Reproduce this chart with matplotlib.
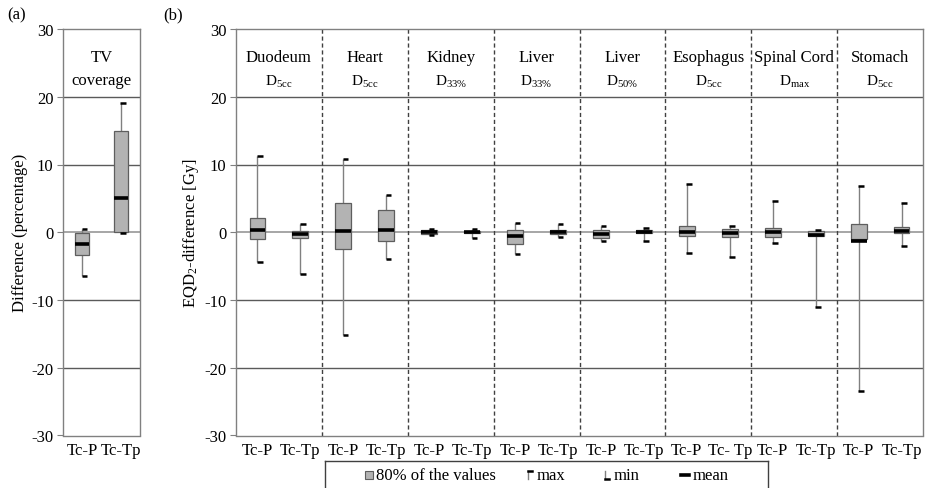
"""
Box summary of dose differences: (a) target volume coverage, (b) OAR EQD2 differences.
Boxes show the central 80% of the values, with max / min ticks and the mean.
"""
import matplotlib
matplotlib.use("Agg")
import matplotlib.pyplot as plt
from matplotlib.lines import Line2D
from matplotlib.patches import Rectangle
import numpy as np

plt.rcParams["font.family"] = "serif"
plt.rcParams["font.serif"] = ["Liberation Serif", "DejaVu Serif"]
plt.rcParams["mathtext.fontset"] = "custom"
plt.rcParams["mathtext.rm"] = "Liberation Serif"
plt.rcParams["mathtext.it"] = "Liberation Serif:italic"
plt.rcParams["axes.unicode_minus"] = False

# ── panel (a): TV coverage ──
tv_labels = ["Tc-P", "Tc-Tp"]
tv_max = [0.43, 19.1]
tv_hi = [-0.1, 15.0]
tv_mean = [-1.74, 5.0]
tv_lo = [-3.37, 0.0]
tv_min = [-6.4, -0.1]

# ── panel (b): OAR EQD2 differences ──
organs = ["Duodeum", "Heart", "Kidney", "Liver", "Liver",
          "Esophagus", "Spinal Cord", "Stomach"]
metrics = [r"$\mathrm{D}_{\mathrm{5cc}}$", r"$\mathrm{D}_{\mathrm{5cc}}$",
           r"$\mathrm{D}_{\mathrm{33\%}}$", r"$\mathrm{D}_{\mathrm{33\%}}$",
           r"$\mathrm{D}_{\mathrm{50\%}}$", r"$\mathrm{D}_{\mathrm{5cc}}$",
           r"$\mathrm{D}_{\mathrm{max}}$", r"$\mathrm{D}_{\mathrm{5cc}}$"]
oar_labels = ["Tc-P", "Tc-Tp", "Tc-P", "Tc-Tp", "Tc-P", "Tc-Tp", "Tc-P", "Tc-Tp",
              "Tc-P", "Tc-Tp", "Tc-P", "Tc- Tp", "Tc-P", "Tc-Tp", "Tc-P", "Tc-Tp"]
oar_max = [11.25, 1.26, 10.8, 5.45, 0.5, 0.47, 1.4, 1.16,
           0.96, 0.57, 7.1, 0.96, 4.66, 0.33, 6.8, 4.27]
oar_hi = [2.1, 0.23, 4.3, 3.3, 0.35, 0.13, 0.32, 0.37,
          0.37, 0.37, 0.92, 0.52, 0.62, 0.18, 1.17, 0.72]
oar_mean = [0.28, -0.27, 0.18, 0.32, 0.05, 0.0, -0.5, 0.03,
            -0.27, 0.1, 0.03, -0.07, 0.0, -0.37, -1.35, 0.13]
oar_lo = [-0.95, -0.85, -2.5, -1.25, -0.25, -0.17, -1.74, -0.27,
          -0.9, -0.17, -0.56, -0.66, -0.66, -0.56, -0.95, -0.12]
oar_min = [-4.35, -6.2, -15.2, -3.9, -0.35, -0.9, -3.17, -0.66,
           -1.35, -1.35, -3.02, -3.6, -1.64, -11.0, -23.5, -2.08]

BOX_FILL = "#b3b3b3"
BOX_EDGE = "#5e5e5e"
WHISKER = "#808080"
SPINE = "#808080"
GRID = "#5a5a5a"


def draw_boxes(ax, mx, hi, mean, lo, mn, width=0.37, tick=0.12):
    pos = np.arange(len(mx))
    mx, hi, mean, lo, mn = map(np.asarray, (mx, hi, mean, lo, mn))
    ax.vlines(pos, mn, mx, color=WHISKER, lw=1.0, zorder=2)
    ax.bar(pos, hi - lo, bottom=lo, width=width, color=BOX_FILL,
           edgecolor=BOX_EDGE, linewidth=0.9, zorder=3)
    ax.hlines(mean, pos - width / 2, pos + width / 2, color="black", lw=2.6, zorder=4)
    ax.hlines(mx, pos - 0.01, pos + tick, color="black", lw=1.8, zorder=4)
    ax.hlines(mn, pos - 0.01, pos + tick, color="black", lw=1.8, zorder=4)


def style_axes(ax, labels):
    ax.set_ylim(-30, 30)
    ax.set_yticks(range(-30, 31, 10))
    ax.set_xlim(-0.5, len(labels) - 0.5)
    ax.set_xticks(range(len(labels)))
    ax.set_xticklabels(labels)
    for v in (-20, -10, 10, 20):
        ax.axhline(v, color=GRID, lw=1.0, zorder=1)
    ax.axhline(0, color="#a6a6a6", lw=1.4, zorder=1)
    for s in ax.spines.values():
        s.set_color(SPINE)
        s.set_linewidth(1.0)
    ax.tick_params(axis="y", direction="out", length=4, color=SPINE,
                   labelsize=12, pad=3)
    ax.tick_params(axis="x", length=0, labelsize=12, pad=5)


fig = plt.figure(figsize=(9.27, 4.89), dpi=100)
fig.patch.set_facecolor("white")

ax_a = fig.add_axes([63 / 927, 1 - 436.5 / 489, 77 / 927, 406.5 / 489])
ax_b = fig.add_axes([236 / 927, 1 - 436.5 / 489, 687 / 927, 406.5 / 489])

# panel (a)
style_axes(ax_a, tv_labels)
draw_boxes(ax_a, tv_max, tv_hi, tv_mean, tv_lo, tv_min, tick=0.13)
ax_a.text(0.5, 25.8, "TV", ha="center", va="center", fontsize=12)
ax_a.text(0.5, 22.4, "coverage", ha="center", va="center", fontsize=12)
ax_a.set_ylabel("Difference (percentage)", fontsize=12, labelpad=2)

# panel (b)
style_axes(ax_b, oar_labels)
draw_boxes(ax_b, oar_max, oar_hi, oar_mean, oar_lo, oar_min)
for k in range(1, len(organs)):
    ax_b.axvline(2 * k - 0.5, color="#404040", lw=1.0,
                 linestyle=(0, (3, 2)), zorder=1)
for g, (name, metric) in enumerate(zip(organs, metrics)):
    ax_b.text(2 * g + 0.5, 25.8, name, ha="center", va="center", fontsize=12)
    ax_b.text(2 * g + 0.5, 22.3, metric, ha="center", va="center", fontsize=11)
ax_b.set_ylabel("EQD$_2$-difference [Gy]", fontsize=12, labelpad=2)

fig.text(7 / 927, 1 - 15 / 489, "(a)", fontsize=12, va="center")
fig.text(163 / 927, 1 - 15 / 489, "(b)", fontsize=12, va="center")

# ── legend box drawn in pixel units ──
lg = fig.add_axes([325 / 927, -0.01, 443 / 927, 0.0652])
lg.set_xlim(0, 443)
lg.set_ylim(-5, 27)
lg.set_xticks([])
lg.set_yticks([])
for s in lg.spines.values():
    s.set_color("#404040")
    s.set_linewidth(1.0)
yc = 13
lg.add_patch(Rectangle((40, yc - 4), 8, 8, facecolor=BOX_FILL,
                       edgecolor=BOX_EDGE, lw=0.8))
lg.text(51, yc, "80% of the values", fontsize=12, va="center")
lg.add_line(Line2D([203, 203], [yc - 4, yc + 4], color=WHISKER, lw=1.0))
lg.add_line(Line2D([203, 207], [yc + 4, yc + 4], color="black", lw=1.8))
lg.text(212, yc, "max", fontsize=12, va="center")
lg.add_line(Line2D([280, 280], [yc - 4, yc + 4], color=WHISKER, lw=1.0))
lg.add_line(Line2D([280, 284], [yc - 4, yc - 4], color="black", lw=1.8))
lg.text(289, yc, "min", fontsize=12, va="center")
lg.add_line(Line2D([356, 364], [yc, yc], color="black", lw=2.6))
lg.text(368, yc, "mean", fontsize=12, va="center")

plt.savefig("out.png", dpi=100, facecolor=fig.get_facecolor())
plt.close()
